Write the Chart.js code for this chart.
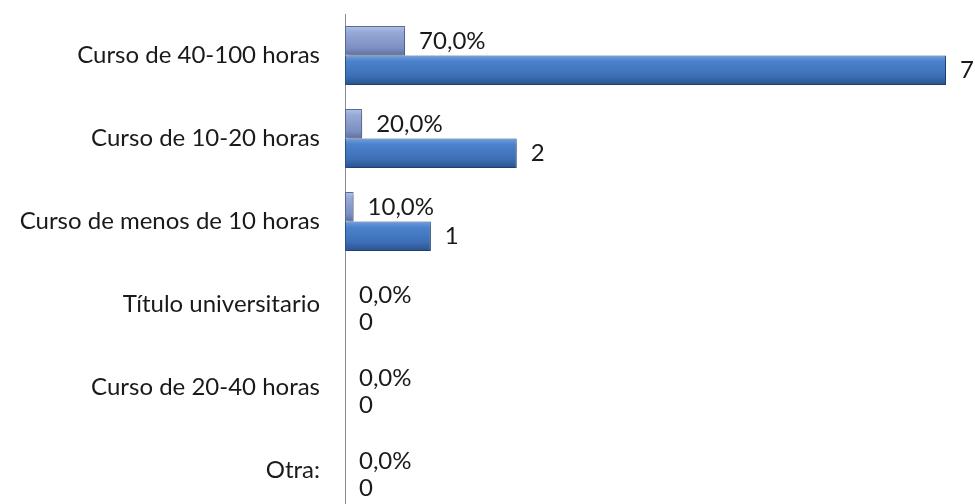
<!DOCTYPE html>
<html>
<head>
<meta charset="utf-8">
<script src="https://cdn.jsdelivr.net/npm/chart.js@4"></script>
<style>
  html, body { margin: 0; padding: 0; background: #fff; overflow: hidden; }
  #wrap { width: 975px; height: 512px; }
</style>
</head>
<body>
<div id="wrap"><canvas id="chart" width="975" height="512"></canvas></div>
<script>
    const categories = [
        'Curso de 40-100 horas',
        'Curso de 10-20 horas',
        'Curso de menos de 10 horas',
        'Título universitario',
        'Curso de 20-40 horas',
        'Otra:'
    ];
    const pctValues = [0.7, 0.2, 0.1, 0, 0, 0];
    const countValues = [7, 2, 1, 0, 0, 0];

    const fontFamily = 'Lato, "Open Sans", sans-serif';

    function pctText(v) {
        return (v * 100).toFixed(1).replace('.', ',') + '%';
    }

    // bevel look: vertical gradient per bar (options are shared, so copy them per element)
    const bevelPlugin = {
        id: 'bevel',
        beforeDatasetDraw(chart, args) {
            const ctx = chart.ctx;
            const idx = args.index;
            args.meta.data.forEach(el => {
                const top = el.y - el.height / 2;
                const bot = el.y + el.height / 2;
                const g = ctx.createLinearGradient(0, top, 0, bot);
                if (idx === 0) {
                    g.addColorStop(0, '#b3c3e6');
                    g.addColorStop(0.2, '#97a9d6');
                    g.addColorStop(0.75, '#7b8fc3');
                    g.addColorStop(1, '#5d6f9e');
                } else {
                    g.addColorStop(0, '#6e9fe0');
                    g.addColorStop(0.2, '#4c82cc');
                    g.addColorStop(0.7, '#3d6fb6');
                    g.addColorStop(1, '#29528c');
                }
                el.options = Object.assign({}, el.options, { backgroundColor: g });
            });
            ctx.save();
            ctx.shadowColor = 'rgba(0,0,0,0.3)';
            ctx.shadowBlur = 4;
            ctx.shadowOffsetX = 2;
            ctx.shadowOffsetY = 2;
        },
        afterDatasetDraw(chart) {
            chart.ctx.restore();
        }
    };

    const valueLabels = {
        id: 'valueLabels',
        afterDatasetsDraw(chart) {
            const ctx = chart.ctx;
            ctx.save();
            ctx.font = '24px ' + fontFamily;
            ctx.fillStyle = '#1a1a1a';
            ctx.textAlign = 'left';
            ctx.textBaseline = 'middle';
            chart.data.datasets.forEach((ds, i) => {
                const meta = chart.getDatasetMeta(i);
                meta.data.forEach((el, j) => {
                    const v = ds.data[j];
                    const txt = i === 0 ? pctText(v) : String(v);
                    const dy = v === 0 ? (i === 0 ? 5 : 3) : 0;
                    ctx.fillText(txt, el.x + 14, el.y + dy);
                });
            });
            ctx.restore();
        }
    };

    new Chart(document.getElementById('chart').getContext('2d'), {
        type: 'bar',
        data: {
            labels: categories,
            datasets: [
                {
                    label: 'Porcentaje',
                    data: pctValues,
                    backgroundColor: '#8a9ccb',
                    borderColor: '#5a6c9c',
                    borderWidth: 1,
                    borderSkipped: false,
                    categoryPercentage: 0.71,
                    barPercentage: 1
                },
                {
                    label: 'Respuestas',
                    data: countValues,
                    backgroundColor: '#4a7ebf',
                    borderColor: '#2a5290',
                    borderWidth: 1,
                    borderSkipped: false,
                    categoryPercentage: 0.71,
                    barPercentage: 1
                }
            ]
        },
        options: {
            indexAxis: 'y',
            responsive: false,
            animation: false,
            layout: { padding: { top: 14, right: 29, bottom: 0, left: 0 } },
            plugins: {
                legend: { display: false },
                tooltip: { enabled: false }
            },
            scales: {
                x: {
                    display: false,
                    min: 0,
                    max: 7
                },
                y: {
                    afterFit: function(scale) {
                        scale.width = 345;
                        scale.paddingTop = 0;
                        scale.paddingBottom = 0;
                    },
                    grid: { display: false, drawTicks: false },
                    border: { display: true, color: '#8c8c8c', width: 1 },
                    ticks: {
                        color: '#1a1a1a',
                        padding: 25,
                        font: { family: fontFamily, size: 24 }
                    }
                }
            }
        },
        plugins: [bevelPlugin, valueLabels]
    });
</script>
</body>
</html>
